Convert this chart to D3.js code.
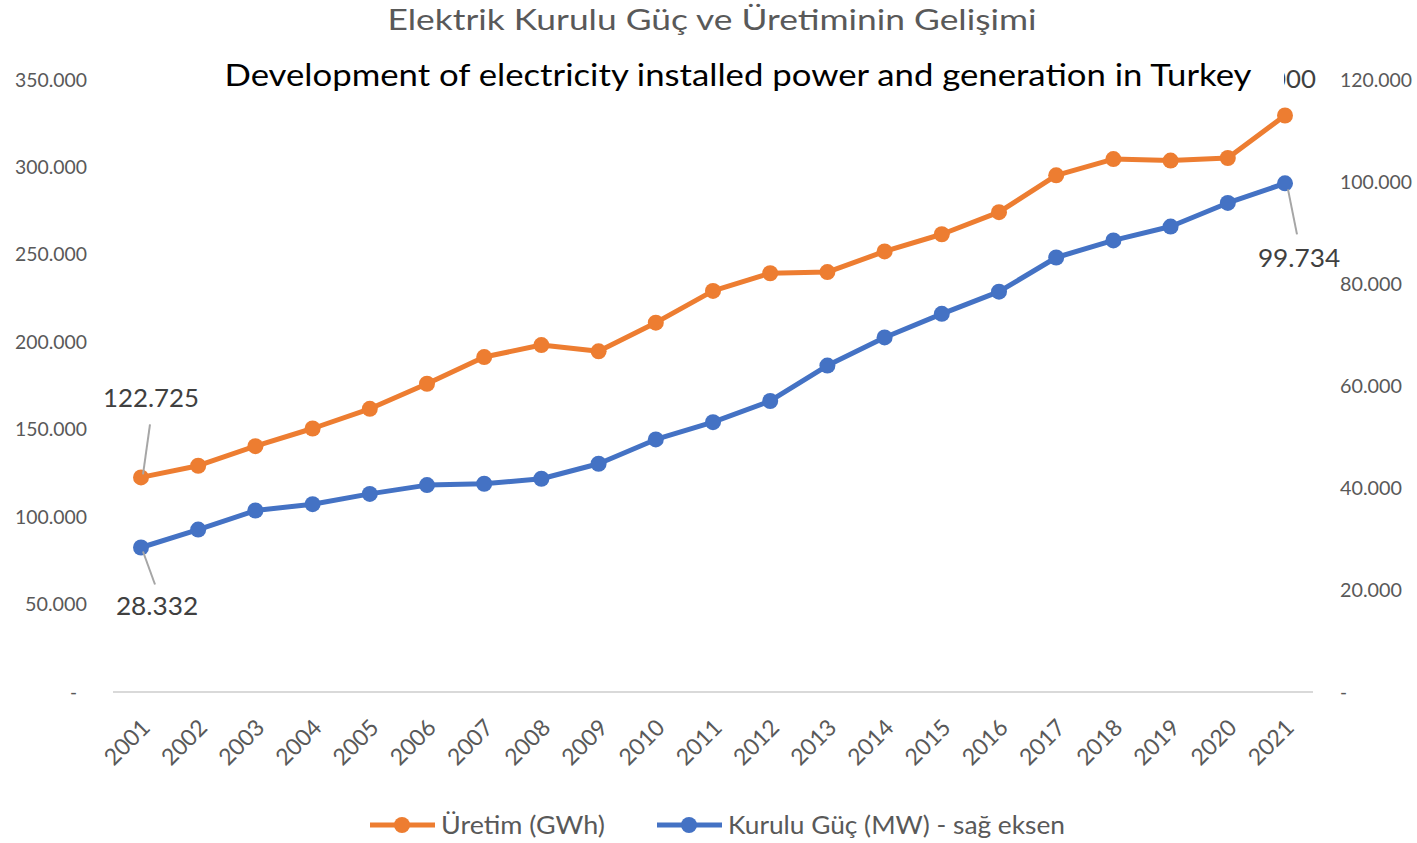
<!DOCTYPE html>
<html><head><meta charset="utf-8">
<script src="https://cdn.jsdelivr.net/npm/d3@7"></script>
<style>body{margin:0;background:#fff}svg{display:block}</style>
</head><body>
<script>
const years = ["2001","2002","2003","2004","2005","2006","2007","2008","2009","2010","2011","2012","2013","2014","2015","2016","2017","2018","2019","2020","2021"];
const uretim = [122725,129400,140581,150698,161956,176300,191558,198418,194813,211208,229395,239497,240154,251963,261783,274408,295500,304802,303898,305400,329700];
const kuruluGuc = [28332,31846,35587,36824,38843,40565,40836,41817,44761,49524,52911,57059,64008,69520,74147,78497,85200,88551,91267,95891,99734];
const leftTicks = [0,50000,100000,150000,200000,250000,300000,350000];
const rightTicks = [0,20000,40000,60000,80000,100000,120000];

const W=1417,H=843;
const fmt = v => v===0 ? "-" : d3.format(",.0f")(v/1000).replace(/,/g,".") + ".000";
const fmtVal = v => (v/1000).toFixed(3);

const svg=d3.select("body").append("svg").attr("width",W).attr("height",H)
  .style("font-family","Lato, 'Open Sans', sans-serif");

const x=d3.scalePoint().domain(years).range([141,1285]);
const yL=d3.scaleLinear().domain([0,350000]).range([692,80]);
const yR=d3.scaleLinear().domain([0,120000]).range([692,80]);

// titles
svg.append("text").attr("x",712).attr("y",30).attr("text-anchor","middle")
  .attr("font-size",29).attr("fill","#595959")
  .attr("textLength",649).attr("lengthAdjust","spacingAndGlyphs")
  .text("Elektrik Kurulu Güç ve Üretiminin Gelişimi");

// left axis
const gl=svg.append("g").attr("transform","translate(87,0)")
  .call(d3.axisLeft(yL).tickValues(leftTicks).tickSize(0).tickPadding(0).tickFormat(fmt));
gl.select(".domain").remove();
gl.selectAll("text").attr("font-size",19).attr("fill","#595959").attr("font-family","Lato, sans-serif")
  .attr("textLength",d=>d===0?null:(d<100000?62:72)).attr("lengthAdjust","spacingAndGlyphs");
gl.selectAll(".tick").filter(d=>d===0).select("text").attr("dx",-10);

// right axis
const gr=svg.append("g").attr("transform","translate(1340,0)")
  .call(d3.axisRight(yR).tickValues(rightTicks).tickSize(0).tickPadding(0).tickFormat(fmt));
gr.select(".domain").remove();
gr.selectAll("text").attr("font-size",19).attr("fill","#595959").attr("font-family","Lato, sans-serif")
  .attr("textLength",d=>d===0?null:(d<100000?62:72)).attr("lengthAdjust","spacingAndGlyphs");

// x axis
const gx=svg.append("g").attr("transform","translate(0,692)")
  .call(d3.axisBottom(x).tickSize(0).tickPadding(0));
gx.select(".domain").remove();
svg.append("line").attr("x1",113).attr("x2",1313).attr("y1",692).attr("y2",692)
  .attr("stroke","#d9d9d9").attr("stroke-width",2);
gx.selectAll("text").attr("font-size",23).attr("fill","#595959").attr("font-family","Lato, sans-serif")
  .attr("text-anchor","end").attr("dy",0).attr("y",0)
  .attr("transform","translate(10,37) rotate(-45)");

// lines
const lineL=d3.line().x((d,i)=>x(years[i])).y(d=>yL(d));
const lineR=d3.line().x((d,i)=>x(years[i])).y(d=>yR(d));
svg.append("path").datum(uretim).attr("d",lineL).attr("fill","none").attr("stroke","#ED7D31").attr("stroke-width",5).attr("stroke-linejoin","round");
svg.append("g").selectAll("circle").data(uretim).join("circle")
  .attr("cx",(d,i)=>x(years[i])).attr("cy",d=>yL(d)).attr("r",8).attr("fill","#ED7D31");
svg.append("path").datum(kuruluGuc).attr("d",lineR).attr("fill","none").attr("stroke","#4472C4").attr("stroke-width",5).attr("stroke-linejoin","round");
svg.append("g").selectAll("circle").data(kuruluGuc).join("circle")
  .attr("cx",(d,i)=>x(years[i])).attr("cy",d=>yR(d)).attr("r",8).attr("fill","#4472C4");

// data labels with leader lines
const n=years.length-1;
const lab=(tx,ty,txt,lx1,ly1,lx2,ly2)=>{
  svg.append("line").attr("x1",lx1).attr("y1",ly1).attr("x2",lx2).attr("y2",ly2)
    .attr("stroke","#a6a6a6").attr("stroke-width",2);
  svg.append("text").attr("x",tx).attr("y",ty).attr("text-anchor","middle")
    .attr("font-size",25).attr("fill","#404040")
    .attr("textLength",txt.length*13.7).attr("lengthAdjust","spacingAndGlyphs").text(txt);
};
const x0=x(years[0]), xn=x(years[n]);
lab(x0+10,yL(uretim[0])-70,fmtVal(uretim[0]),x0+9,yL(uretim[0])-53,x0+2,yL(uretim[0])-3);
lab(x0+16,yR(kuruluGuc[0])+67,fmtVal(kuruluGuc[0]),x0+2,yR(kuruluGuc[0])+4,x0+14,yR(kuruluGuc[0])+37);
lab(xn+14,yR(kuruluGuc[n])+84,fmtVal(kuruluGuc[n]),xn+3,yR(kuruluGuc[n])+6,xn+12,yR(kuruluGuc[n])+51);
// label of last generation value, mostly hidden behind the overlay text box
svg.append("text").attr("x",1316).attr("y",88).attr("text-anchor","end")
  .attr("font-size",25).attr("fill","#404040")
  .attr("textLength",96).attr("lengthAdjust","spacingAndGlyphs").text("330.000");

// overlay english title box
svg.append("rect").attr("x",212).attr("y",52).attr("width",1072).attr("height",48).attr("fill","#fff");
svg.append("text").attr("x",738).attr("y",86).attr("text-anchor","middle")
  .attr("font-size",31).attr("fill","#000")
  .attr("textLength",1027).attr("lengthAdjust","spacingAndGlyphs")
  .text("Development of electricity installed power and generation in Turkey");

// legend
const leg=[{name:"Üretim (GWh)",c:"#ED7D31",x:370,w:164},{name:"Kurulu Güç (MW) - sağ eksen",c:"#4472C4",x:657,w:337}];
const lg=svg.append("g").selectAll("g").data(leg).join("g").attr("transform",d=>`translate(${d.x},825)`);
lg.append("line").attr("x1",0).attr("x2",65).attr("stroke",d=>d.c).attr("stroke-width",5);
lg.append("circle").attr("cx",32).attr("r",8).attr("fill",d=>d.c);
lg.append("text").attr("x",71).attr("y",9).attr("font-size",25).attr("fill","#595959")
  .attr("textLength",d=>d.w).attr("lengthAdjust","spacingAndGlyphs").text(d=>d.name);
</script>
</body></html>
